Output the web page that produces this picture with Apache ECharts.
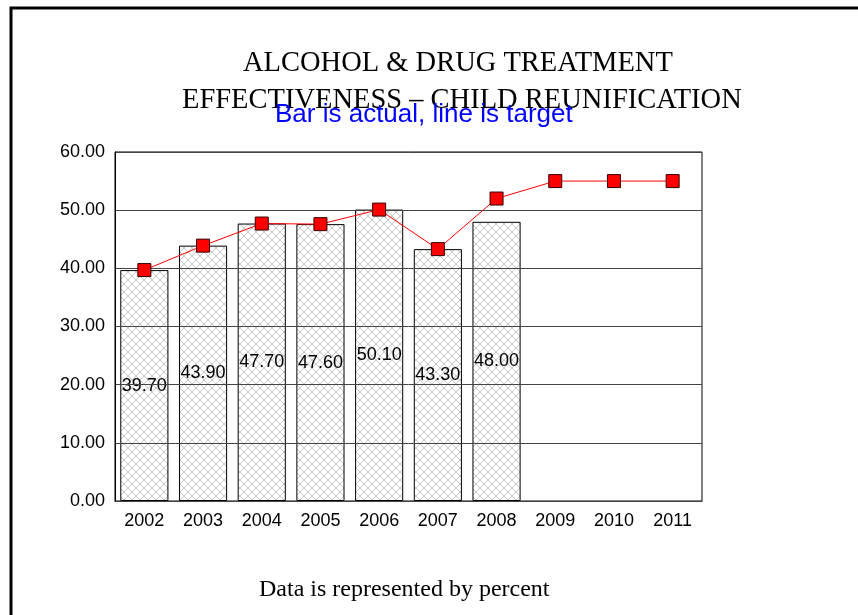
<!DOCTYPE html>
<html>
<head>
<meta charset="utf-8">
<script src="https://cdn.jsdelivr.net/npm/echarts@6/dist/echarts.min.js"></script>
<style>
  html, body { margin: 0; padding: 0; background: #fff; }
  #chart { width: 858px; height: 615px; }
</style>
</head>
<body>
<div id="chart"></div>
<script>
// Years shown on the category axis
const years = ['2002', '2003', '2004', '2005', '2006', '2007', '2008', '2009', '2010', '2011'];
// Actual reunification rate (bars); no data yet for later years
const actual = [39.70, 43.90, 47.70, 47.60, 50.10, 43.30, 48.00, null, null, null];
// Target rate (line)
const target = [39.70, 43.90, 47.70, 47.60, 50.10, 43.30, 52.00, 55.00, 55.00, 55.00];
// Value axis range and step
const yMin = 0, yMax = 60, yStep = 10;

// Cross-hatch fill for the bars
function hatch() {
  const c = document.createElement('canvas');
  c.width = 8; c.height = 8;
  const g = c.getContext('2d');
  g.fillStyle = '#ffffff';
  g.fillRect(0, 0, 8, 8);
  g.strokeStyle = '#c8c8c8';
  g.lineWidth = 1;
  g.beginPath();
  g.moveTo(0, 0); g.lineTo(8, 8);
  g.moveTo(8, 0); g.lineTo(0, 8);
  g.stroke();
  return c;
}

const serifTitle = { fontFamily: 'Liberation Serif', fontSize: 28.5, fontWeight: 'normal', color: '#000' };

const chart = echarts.init(document.getElementById('chart'), null, { renderer: 'canvas' });

chart.setOption({
  animation: false,
  backgroundColor: '#ffffff',
  title: [
    { text: 'ALCOHOL & DRUG TREATMENT', left: 243, top: 49, padding: 0, textStyle: serifTitle },
    { text: 'EFFECTIVENESS – CHILD REUNIFICATION', left: 182, top: 86, padding: 0, textStyle: serifTitle },
    {
      text: 'Bar is actual, line is target',
      left: 275, top: 102, padding: 0,
      textStyle: { fontFamily: 'Liberation Sans', fontSize: 26, fontWeight: 'normal', color: '#0000ff' }
    },
    {
      text: 'Data is represented by percent',
      left: 259, top: 578, padding: 0,
      textStyle: { fontFamily: 'Liberation Serif', fontSize: 24, fontWeight: 'normal', color: '#000' }
    }
  ],
  graphic: [
    {
      type: 'rect', silent: true, z: 100,
      shape: { x: 11, y: 8, width: 900, height: 700 },
      style: { fill: 'none', stroke: '#000', lineWidth: 3 }
    }
  ],
  grid: {
    left: 115, right: 156, top: 152, bottom: 114,
    show: true, borderColor: '#000', borderWidth: 1, backgroundColor: 'transparent'
  },
  xAxis: {
    type: 'category',
    data: years,
    axisLine: { lineStyle: { color: '#000', width: 1 } },
    axisTick: { show: false },
    axisLabel: { color: '#000', fontFamily: 'Liberation Sans', fontSize: 18, margin: 11 }
  },
  yAxis: {
    type: 'value',
    min: yMin, max: yMax, interval: yStep,
    z: 5,
    axisLine: { show: true, lineStyle: { color: '#000', width: 1 } },
    axisTick: { show: false },
    axisLabel: {
      color: '#000', fontFamily: 'Liberation Sans', fontSize: 18, margin: 10,
      formatter: v => v.toFixed(2)
    },
    splitLine: { show: true, lineStyle: { color: '#444', width: 1 } }
  },
  series: [
    {
      name: 'Actual',
      type: 'bar',
      data: actual,
      z: 2,
      barCategoryGap: '18%',
      itemStyle: {
        color: { image: hatch(), repeat: 'repeat' },
        borderColor: '#000',
        borderWidth: 1
      },
      label: {
        show: true,
        position: 'inside',
        color: '#000',
        fontFamily: 'Liberation Sans',
        fontSize: 18,
        formatter: p => p.value.toFixed(2)
      }
    },
    {
      name: 'Target',
      type: 'line',
      data: target,
      z: 10,
      symbol: 'rect',
      symbolSize: 13,
      lineStyle: { color: '#ff0000', width: 1 },
      itemStyle: { color: '#ff0000', borderColor: '#330000', borderWidth: 1 }
    }
  ]
});
</script>
</body>
</html>
